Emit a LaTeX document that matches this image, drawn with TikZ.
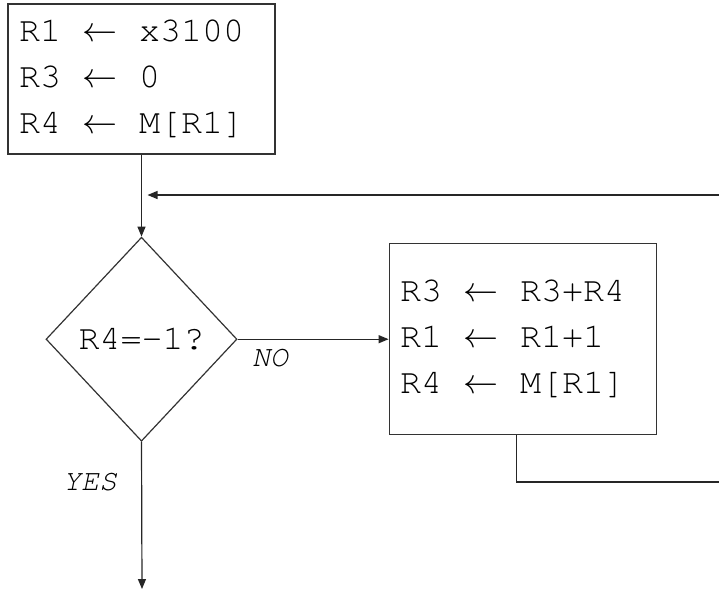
\RequirePackage{fix-cm}
\documentclass[tikz,border=0pt]{standalone}
\usepackage{fontspec}
\setmainfont{Liberation Serif}
\setmonofont{TeX Gyre Cursor}
\usetikzlibrary{arrows.meta,positioning,shapes.geometric}

\newcommand{\codefont}{\ttfamily\fontsize{35}{46}\selectfont}
\newcommand{\tagfont}{\ttfamily\itshape\fontsize{30}{36}\selectfont}
\newcommand{\asg}[2]{#1\hspace{21pt}$\leftarrow$\hspace{22pt}#2}

\begin{document}
\begin{tikzpicture}[
    x=1pt, y=-1pt,
    % --- Node styles ---
    stepbox/.style={draw=black!80, line width=1.2pt, fill=white, align=left,
                    font=\codefont, text width=245pt, inner xsep=11pt, inner ysep=0pt},
    test/.style={draw=black!80, diamond, line width=1.2pt, fill=white, font=\codefont,
                 minimum width=191pt, minimum height=204pt, inner sep=0pt},
    tag/.style={font=\tagfont, inner sep=0pt},
    % --- Edge styles ---
    flow/.style={-{Triangle[length=10pt,width=8pt]}, line width=1.2pt, black!85},
    wire/.style={line width=1.2pt, black!85},
]
\useasboundingbox (0,0) rectangle (719,590);

% === Nodes ===
\node[stepbox, minimum height=150pt] (init) at (141.5,79)
  {\asg{R1}{x3100}\\ \asg{R3}{0}\\ \asg{R4}{M[R1]}};
\node[test, below=82pt of init] (dec) {R4=-1?};
\node[stepbox, minimum height=191pt, right=151pt of dec] (body)
  {\asg{R3}{R3+R4}\\ \asg{R1}{R1+1}\\ \asg{R4}{M[R1]}};

% --- Branch labels ---
\node[tag] (no) at (270,358) {NO};
\node[tag] (yes) at (90,482) {YES};

% --- Free ends at the picture edge ---
\coordinate (exit) at (142,589);
\coordinate (loopin) at (719,195);
\coordinate (loopout) at (719,482);

% === Connectors ===
\draw[flow] (init.south) -- (dec.north);
\draw[flow] (dec.east) -- (body.west);
\draw[flow] (dec.south) -- (exit);
\draw[flow, shorten >=6pt] (loopin) -- (loopin -| dec.north);
\draw[wire] ([xshift=-6.5pt]body.south) |- (loopout);

\end{tikzpicture}
\end{document}
